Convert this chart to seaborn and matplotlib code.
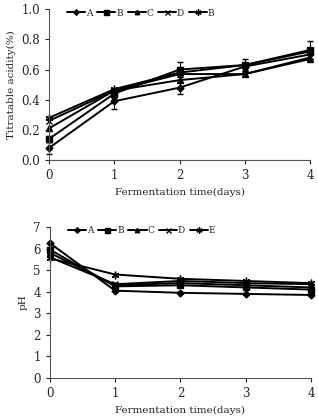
import numpy as np
import pandas as pd
import matplotlib
matplotlib.use("Agg")
import matplotlib.pyplot as plt
import seaborn as sns

days = [0, 1, 2, 3, 4]
groups = ["A", "B", "C", "D", "E"]

# titratable acidity (%)
ta_A = [0.08, 0.39, 0.48, 0.62, 0.70]
ta_B = [0.14, 0.44, 0.60, 0.63, 0.73]
ta_C = [0.21, 0.46, 0.53, 0.57, 0.67]
ta_D = [0.26, 0.46, 0.57, 0.57, 0.68]
ta_E = [0.28, 0.47, 0.58, 0.63, 0.72]
ta_err_B = [0.02, 0.03, 0.05, 0.04, 0.06]
ta_err_A = [0.04, 0.05, 0.04, 0.02, 0.03]

# pH
ph_A = [6.25, 4.05, 3.95, 3.90, 3.85]
ph_B = [5.95, 4.25, 4.30, 4.20, 4.10]
ph_C = [5.80, 4.30, 4.40, 4.30, 4.20]
ph_D = [5.60, 4.35, 4.50, 4.40, 4.35]
ph_E = [5.55, 4.80, 4.60, 4.50, 4.40]

ta_legend = ["A", "B", "C", "D", "B"]
ph_legend = ["A", "B", "C", "D", "E"]

sns.set_style("ticks")
plt.rcParams['font.family'] = ['DejaVu Serif']

markers = {"A": "D", "B": "s", "C": "^", "D": "x", "E": (6, 2, 0)}
msizes = {"A": 3.5, "B": 4.5, "C": 4, "D": 4.5, "E": 5.5}


def to_long(series):
    rows = []
    for g, vals in zip(groups, series):
        for d, v in zip(days, vals):
            rows.append({"day": d, "group": g, "value": v})
    return pd.DataFrame(rows)


def draw(ax, series, labels, ylim, yticks, ylabel, yfmt):
    df = to_long(series)
    for g, lab in zip(groups, labels):
        sub = df[df["group"] == g]
        sns.lineplot(data=sub, x="day", y="value", ax=ax, color="black",
                     marker=markers[g], markersize=msizes[g], linewidth=1.4,
                     markeredgecolor="black", markerfacecolor="black",
                     markeredgewidth=1.0, label=lab, clip_on=False)
    ax.set_xlim(0, 4)
    ax.set_ylim(*ylim)
    ax.set_xticks(days)
    ax.set_yticks(yticks)
    ax.set_yticklabels([yfmt.format(t) for t in yticks])
    ax.set_xlabel("Fermentation time(days)", fontsize=7.5)
    ax.set_ylabel(ylabel, fontsize=7.5)
    ax.tick_params(labelsize=8.5, length=3, width=0.8)
    for s in ["top", "right"]:
        ax.spines[s].set_visible(False)
    for s in ["left", "bottom"]:
        ax.spines[s].set_linewidth(0.8)
        ax.spines[s].set_color("#555555")
    ax.legend(loc="upper left", bbox_to_anchor=(0.05, 1.04), ncol=5,
              frameon=False, fontsize=6.5, handlelength=2.0,
              handletextpad=0.1, columnspacing=0.5, borderaxespad=0.2,
              markerscale=0.8)


fig = plt.figure(figsize=(3.18, 4.19), dpi=100)
ax1 = fig.add_axes([0.154, 0.618, 0.821, 0.360])
ax2 = fig.add_axes([0.157, 0.098, 0.821, 0.360])

draw(ax1, [ta_A, ta_B, ta_C, ta_D, ta_E], ta_legend, (0, 1.0),
     [0.0, 0.2, 0.4, 0.6, 0.8, 1.0], "Titratable acidity(%)", "{:.1f}")
ax1.errorbar(days, ta_A, yerr=ta_err_A, fmt="none", ecolor="black",
             elinewidth=0.8, capsize=2, clip_on=False)
ax1.errorbar(days, ta_B, yerr=ta_err_B, fmt="none", ecolor="black",
             elinewidth=0.8, capsize=2, clip_on=False)

draw(ax2, [ph_A, ph_B, ph_C, ph_D, ph_E], ph_legend, (0, 7),
     list(range(0, 8)), "pH", "{:d}")

fig.savefig("out.png", dpi=100)
